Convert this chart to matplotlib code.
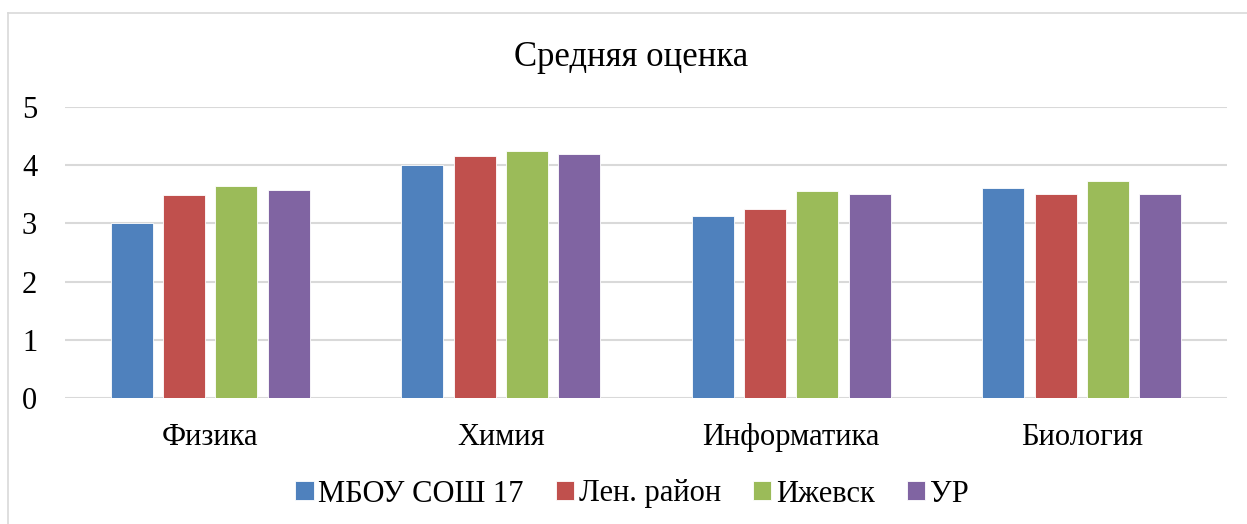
import numpy as np
import matplotlib.pyplot as plt
from matplotlib.lines import Line2D

plt.rcParams['font.family'] = ['Liberation Serif', 'DejaVu Serif']

subjects = ['Физика', 'Химия', 'Информатика', 'Биология']
series = ['МБОУ СОШ 17', 'Лен. район', 'Ижевск', 'УР']
school = [3.0, 4.0, 3.12, 3.60]
district = [3.49, 4.16, 3.24, 3.51]
izhevsk = [3.64, 4.24, 3.56, 3.73]
republic = [3.57, 4.19, 3.50, 3.50]
colors = ['#4F81BD', '#C0504D', '#9BBB59', '#8064A2']

values = [school, district, izhevsk, republic]

fig = plt.figure(figsize=(12.47, 5.24), dpi=100)
# chart border: only top and left edges visible in the crop
top = 1 - 13 / 524
left = 7.5 / 1247
fig.lines.append(Line2D([left, 1.0], [top, top], transform=fig.transFigure,
                        color='#d9d9d9', linewidth=1.2))
fig.lines.append(Line2D([left, left], [0.0, top], transform=fig.transFigure,
                        color='#d9d9d9', linewidth=1.2))

ax = fig.add_axes([65 / 1247, 1 - 398 / 524, 1162 / 1247, 291 / 524])

x = np.arange(len(subjects))
step = 0.18
width = 0.145
for i, (vals, name, c) in enumerate(zip(values, series, colors)):
    ax.bar(x + (i - 1.5) * step, vals, width, color=c, label=name,
           edgecolor='white', linewidth=0.6, zorder=3)

ax.set_xlim(-0.5, 3.5)
ax.set_ylim(0, 5)
ax.set_yticks(range(6))
ax.yaxis.grid(True, color='#d9d9d9', linewidth=1.5, zorder=0)
ax.set_xticks(x)
ax.set_xticklabels(subjects)
ax.tick_params(axis='both', length=0, labelsize=22)
ax.tick_params(axis='x', pad=18)
ax.tick_params(axis='y', pad=20)
for s in ax.spines.values():
    s.set_visible(False)

fig.text(631 / 1247, 1 - 57 / 524, 'Средняя оценка', ha='center', va='center', fontsize=25)

fig.legend(loc='center', bbox_to_anchor=(632 / 1247, 1 - 494 / 524), ncol=4,
           frameon=False, fontsize=22, handlelength=0.6, handleheight=0.6,
           handletextpad=0.15, columnspacing=1.05)

plt.savefig('out.png', dpi=100)
